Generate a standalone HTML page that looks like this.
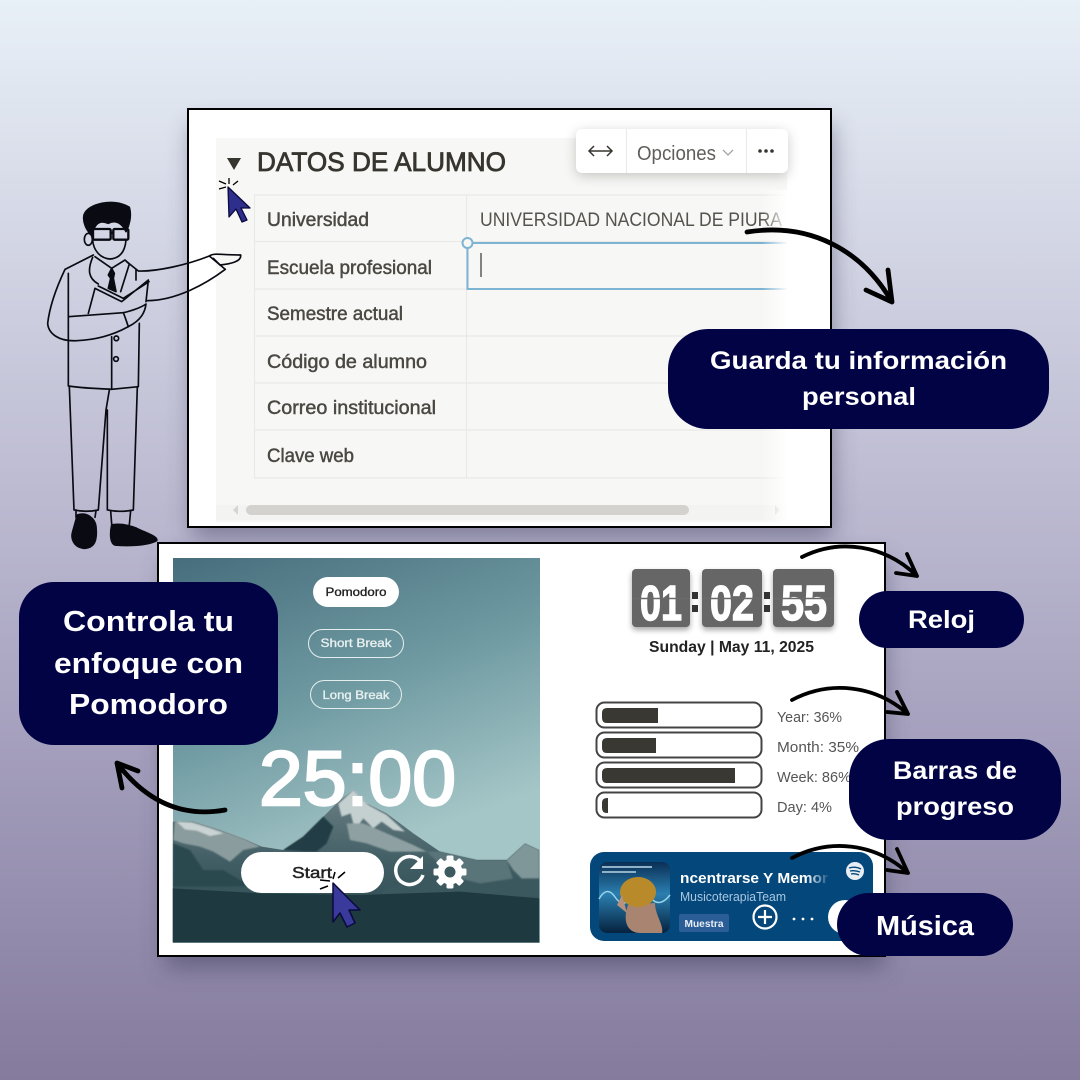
<!DOCTYPE html>
<html lang="es"><head><meta charset="utf-8"><title>Plantilla</title>
<style>html,body{margin:0;padding:0;background:#b5b2cc}svg{display:block}text{font-family:"Liberation Sans",sans-serif}</style></head>
<body>
<svg xmlns="http://www.w3.org/2000/svg" width="1080" height="1080" viewBox="0 0 1080 1080">
<defs>
<linearGradient id="bg" x1="0" y1="0" x2="0" y2="1"><stop offset="0" stop-color="#e8f0f7"/><stop offset=".17" stop-color="#d8dce9"/><stop offset=".52" stop-color="#b6b3cc"/><stop offset=".75" stop-color="#9e98b7"/><stop offset="1" stop-color="#857b9d"/></linearGradient>
<linearGradient id="sky" x1="0" y1="0" x2=".35" y2="1"><stop offset="0" stop-color="#466d7c"/><stop offset=".45" stop-color="#6f9aa2"/><stop offset=".85" stop-color="#a5c6c7"/></linearGradient>
<linearGradient id="fade" x1="0" y1="0" x2="1" y2="0"><stop offset="0" stop-color="#fff" stop-opacity="0"/><stop offset="1" stop-color="#fff"/></linearGradient>
<linearGradient id="mt" x1="0" y1="0" x2="0" y2="1"><stop offset="0" stop-color="#6b8084"/><stop offset=".5" stop-color="#3f5c63"/><stop offset="1" stop-color="#2a464d"/></linearGradient>
<linearGradient id="tf" x1="0" y1="0" x2="1" y2="0"><stop offset=".85" stop-color="#fff"/><stop offset="1" stop-color="#fff" stop-opacity=".1"/></linearGradient>
<linearGradient id="alb" x1="0" y1="0" x2="0" y2="1"><stop offset="0" stop-color="#0a2f55"/><stop offset=".45" stop-color="#2a7fb0"/><stop offset="1" stop-color="#06223f"/></linearGradient>
<filter id="sh" x="-20%" y="-20%" width="140%" height="150%"><feGaussianBlur stdDeviation="12"/></filter>
<filter id="sh2" x="-30%" y="-60%" width="160%" height="260%"><feGaussianBlur stdDeviation="6"/></filter>
<filter id="sh3" x="-30%" y="-30%" width="160%" height="160%"><feGaussianBlur stdDeviation="3"/></filter>
<filter id="soft" x="-5%" y="-5%" width="110%" height="110%"><feGaussianBlur stdDeviation="2.5"/></filter>
<clipPath id="pan"><rect x="38" y="25" width="1100" height="1153"/></clipPath>
</defs>
<rect width="1080" height="1080" fill="url(#bg)"/>

<!-- shadows -->
<rect x="192" y="125" width="640" height="412" fill="#3b3a58" opacity=".5" filter="url(#sh)"/>
<rect x="165" y="560" width="720" height="408" fill="#3b3a58" opacity=".5" filter="url(#sh)"/>

<!-- top frame -->
<rect x="188" y="109" width="643" height="418" fill="#fff" stroke="#000" stroke-width="2"/>
<rect x="216" y="138" width="571" height="384" fill="#f7f7f5"/>
<g stroke="#e9e9e7" stroke-width="1.2" fill="none">
<path d="M254.5 195V478M466.500 195V478M254 195H787M254 241.5H787M254 289H467M254 336H787M254 383H787M254 430H787M254 478H787"/>
</g>
<path d="M227 158H241L234 170Z" fill="#37352f"/>
<text x="257" y="171" font-size="27" fill="#37352f" stroke="#37352f" stroke-width=".8" textLength="249" lengthAdjust="spacingAndGlyphs">DATOS DE ALUMNO</text>
<g font-size="19" fill="#4a4843" stroke="#4a4843" stroke-width=".45">
<text x="267" y="226" textLength="102" lengthAdjust="spacingAndGlyphs">Universidad</text>
<text x="267" y="274" textLength="165" lengthAdjust="spacingAndGlyphs">Escuela profesional</text>
<text x="267" y="320" textLength="136" lengthAdjust="spacingAndGlyphs">Semestre actual</text>
<text x="267" y="368" textLength="160" lengthAdjust="spacingAndGlyphs">Código de alumno</text>
<text x="267" y="414" textLength="169" lengthAdjust="spacingAndGlyphs">Correo institucional</text>
<text x="267" y="462" textLength="87" lengthAdjust="spacingAndGlyphs">Clave web</text>
</g>
<text x="480" y="226" font-size="19" fill="#55534e" textLength="302" lengthAdjust="spacingAndGlyphs">UNIVERSIDAD NACIONAL DE PIURA</text>
<path d="M467.5 243V289H787M467.5 243H787" fill="none" stroke="#7db3d3" stroke-width="2"/>
<circle cx="467.5" cy="243" r="5" fill="#f7f7f5" stroke="#7db3d3" stroke-width="2"/>
<path d="M481 253V277" stroke="#444" stroke-width="1.3"/>
<rect x="216" y="505" width="571" height="15" fill="#f3f3f1"/>
<rect x="246" y="505" width="443" height="10" rx="5" fill="#d3d2ce"/>
<path d="M238 505L233 510L238 515ZM775 505L780 510L775 515Z" fill="#d6d5d1"/>
<rect x="762" y="190" width="26" height="332" fill="url(#fade)"/>
<!-- toolbar -->
<rect x="576" y="132" width="212" height="44" rx="6" fill="#55534e" opacity=".3" filter="url(#sh2)"/>
<rect x="576" y="129" width="212" height="44" rx="6" fill="#fff"/>
<path d="M626.500 129V173M746.500 129V173" stroke="#ecebe9" stroke-width="1.2"/>
<path d="M589 151H612M594 146L589 151L594 156M607 146L612 151L607 156" fill="none" stroke="#37352f" stroke-width="1.5"/>
<text x="637" y="160" font-size="20" fill="#605e5a" textLength="79" lengthAdjust="spacingAndGlyphs">Opciones</text>
<path d="M723 150L728 155L733 150" fill="none" stroke="#a5a4a0" stroke-width="1.3"/>
<g fill="#37352f"><circle cx="760" cy="151" r="1.8"/><circle cx="766" cy="151" r="1.8"/><circle cx="772" cy="151" r="1.8"/></g>

<!-- bottom frame -->
<rect x="158" y="543" width="727" height="413" fill="#fff" stroke="#000" stroke-width="2"/>
<!-- pomodoro panel -->
<rect x="173" y="558" width="367" height="385" fill="url(#sky)"/>
<g transform="translate(160 550) scale(.33333)" clip-path="url(#pan)">
<polygon fill="url(#mt)" points="38,815 100,815 180,840 260,870 305,890 370,900 430,860 500,790 540,750 580,720 620,760 680,790 760,850 840,905 950,930 1040,930 1095,880 1138,900 1138,1178 38,1178"/>
<g filter="url(#soft)">
<polygon fill="#8b9c9e" points="45,815 100,815 180,840 260,870 300,890 250,900 210,935 160,905 120,890 70,880 40,870"/>
<polygon fill="#c9d3d3" points="50,815 95,818 150,835 190,850 150,858 110,842 75,838"/>
<polygon fill="#2c4950" points="40,880 90,900 130,960 190,960 240,990 300,1010 40,1010"/>
<polygon fill="#223e45" points="370,900 430,860 490,800 520,830 500,880 470,905 440,905"/>
<polygon fill="#c4cfcf" points="535,762 580,720 625,765 680,795 735,845 700,840 665,815 640,835 610,805 585,840 572,790 545,800"/>
<polygon fill="#8ea0a2" points="560,820 610,820 680,850 760,885 800,905 690,905 620,880 570,870"/>
<polygon fill="#5a7479" points="800,905 840,905 950,930 1040,930 1060,990 980,1010 880,980"/>
<polygon fill="#7f9799" points="1040,930 1095,880 1138,900 1138,985 1085,985 1060,960"/>
<polygon fill="#3b585e" points="670,1020 770,985 860,975 960,1000 1060,985 1138,990 1138,1040 670,1040"/>
</g>
<polygon fill="#1f3940" points="38,1015 300,1030 600,1035 900,1025 1138,1045 1138,1178 38,1178"/>
</g>
<rect x="313" y="577" width="86" height="30" rx="15" fill="#fff"/>
<text x="356" y="596" font-size="11.5" fill="#222" stroke="#222" stroke-width=".35" text-anchor="middle" textLength="61" lengthAdjust="spacingAndGlyphs">Pomodoro</text>
<rect x="308.5" y="629.5" width="95" height="28" rx="14" fill="none" stroke="#e4eeee" stroke-width="1"/>
<text x="356" y="647" font-size="12" fill="#e8f0f0" stroke="#e8f0f0" stroke-width=".35" text-anchor="middle" textLength="71" lengthAdjust="spacingAndGlyphs">Short Break</text>
<rect x="310.5" y="680.5" width="91" height="28" rx="14" fill="none" stroke="#e4eeee" stroke-width="1"/>
<text x="356" y="699" font-size="12" fill="#e8f0f0" stroke="#e8f0f0" stroke-width=".35" text-anchor="middle" textLength="67" lengthAdjust="spacingAndGlyphs">Long Break</text>
<text x="259" y="805" font-size="77" fill="#fff" stroke="#fff" stroke-width="2.4" textLength="197" lengthAdjust="spacingAndGlyphs">25:00</text>
<rect x="241" y="852" width="143" height="41" rx="20.5" fill="#fff"/>
<text x="292" y="878" font-size="16" fill="#222" stroke="#222" stroke-width=".45" textLength="40" lengthAdjust="spacingAndGlyphs">Start</text>
<path d="M420 861A14 14 0 1 0 423 875" fill="none" stroke="#fff" stroke-width="3.5"/>
<path d="M423 856V869H410Z" fill="#fff"/>
<g fill="#fff" transform="translate(450 872)">
<circle r="12.5"/><rect x="-3.500" y="-16.5" width="7" height="33" rx="1.5"/><rect x="-3.5" y="-16.5" width="7" height="33" rx="1.5" transform="rotate(45)"/><rect x="-3.5" y="-16.5" width="7" height="33" rx="1.5" transform="rotate(90)"/><rect x="-3.5" y="-16.5" width="7" height="33" rx="1.5" transform="rotate(135)"/>
<circle r="5.5" fill="#3d5a60"/></g>

<!-- clock -->
<g filter="url(#sh3)" opacity=".35" fill="#000"><rect x="632" y="572" width="58" height="58" rx="4"/><rect x="702" y="572" width="60" height="58" rx="4"/><rect x="773" y="572" width="61" height="58" rx="4"/></g>
<g fill="#666"><rect x="632" y="569" width="58" height="58" rx="4"/><rect x="702" y="569" width="60" height="58" rx="4"/><rect x="773" y="569" width="61" height="58" rx="4"/></g>
<g font-size="49" font-weight="bold" fill="#fff" stroke="#fff" stroke-width="1.4">
<text x="640" y="620" textLength="42" lengthAdjust="spacingAndGlyphs">01</text>
<text x="710" y="620" textLength="44" lengthAdjust="spacingAndGlyphs">02</text>
<text x="781" y="620" textLength="46" lengthAdjust="spacingAndGlyphs">55</text>
</g>
<path d="M632 598.5H690M702 598.5H762M773 598.5H834" stroke="#6a6a6a" stroke-width="1.4"/>
<g fill="#333"><rect x="692" y="592" width="6" height="7"/><rect x="692" y="605" width="6" height="7"/><rect x="764" y="592" width="6" height="7"/><rect x="764" y="605" width="6" height="7"/></g>
<text x="649" y="652" font-size="16" font-weight="bold" fill="#222" textLength="165" lengthAdjust="spacingAndGlyphs">Sunday | May 11, 2025</text>

<!-- bars -->
<g fill="#fff" stroke="#444" stroke-width="2"><rect x="596.5" y="702.5" width="165" height="25" rx="8"/><rect x="596.5" y="732.5" width="165" height="25" rx="8"/><rect x="596.5" y="762.5" width="165" height="25" rx="8"/><rect x="596.5" y="792.5" width="165" height="25" rx="8"/></g>
<g fill="#3a3832"><path d="M607 708H658V723H607Q602 723 602 718V713Q602 708 607 708Z"/><path d="M607 738H656V753H607Q602 753 602 748V743Q602 738 607 738Z"/><path d="M607 768H735V783H607Q602 783 602 778V773Q602 768 607 768Z"/><path d="M607 798H608V813H607Q602 813 602 808V803Q602 798 607 798Z"/></g>
<g font-size="15" fill="#555"><text x="777" y="722" textLength="65" lengthAdjust="spacingAndGlyphs">Year: 36%</text><text x="777" y="752" textLength="82" lengthAdjust="spacingAndGlyphs">Month: 35%</text><text x="777" y="782" textLength="74" lengthAdjust="spacingAndGlyphs">Week: 86%</text><text x="777" y="812" textLength="55" lengthAdjust="spacingAndGlyphs">Day: 4%</text></g>

<!-- music -->
<rect x="590" y="852" width="283" height="89" rx="14" fill="#04477b"/>
<rect x="599" y="862" width="71" height="71" rx="8" fill="url(#alb)"/>
<path d="M599 899Q607 885 615 897T632 897T650 897T670 895" fill="none" stroke="#9ad4e8" stroke-width="1.5"/>
<path d="M628 905C622 922 628 933 640 933H662C664 925 655 915 655 903Z" fill="#a98470"/>
<ellipse cx="638" cy="892" rx="18" ry="15" fill="#b98a2a"/>
<path d="M622 895L617 905L627 913Z" fill="#b8927c"/>
<rect x="602" y="866" width="50" height="2" fill="#8eb1c7"/><rect x="602" y="871" width="34" height="2" fill="#8eb1c7"/>
<text x="680" y="883" font-size="15" font-weight="bold" fill="url(#tf)" textLength="148" lengthAdjust="spacingAndGlyphs">ncentrarse Y Memor</text>
<text x="680" y="901" font-size="13" fill="#a9c7e0" textLength="106" lengthAdjust="spacingAndGlyphs">MusicoterapiaTeam</text>
<rect x="679" y="914" width="50" height="18" rx="2" fill="#2b5d97"/>
<text x="704" y="927" font-size="10" font-weight="bold" fill="#e8eef5" text-anchor="middle" textLength="39" lengthAdjust="spacingAndGlyphs">Muestra</text>
<circle cx="765" cy="917" r="11.5" fill="none" stroke="#fff" stroke-width="2.2"/>
<path d="M758 917H772M765 910V924" stroke="#fff" stroke-width="2.2"/>
<g fill="#fff"><circle cx="794" cy="919" r="1.4"/><circle cx="803" cy="919" r="1.4"/><circle cx="812" cy="919" r="1.4"/></g>
<circle cx="845" cy="917" r="17" fill="#fff"/>
<circle cx="855" cy="871" r="9" fill="#e8eef3"/>
<path d="M849 868Q855 866 861 869M850 871Q855 870 860 872M851 874Q855 873 859 875" fill="none" stroke="#04477b" stroke-width="1.3"/>

<!-- man -->
<g transform="translate(0 180) scale(.33333)" fill="none" stroke="#0a0a12" stroke-width="5" stroke-linecap="round" stroke-linejoin="round">
<path fill="#0a0a12" d="M252 105C262 72 340 52 388 82C396 110 386 140 378 155C366 128 345 118 325 130C305 122 290 124 280 150L276 165C258 152 248 125 252 105Z"/>
<rect x="279" y="147" width="53" height="32" rx="4" stroke-width="7"/><rect x="340" y="147" width="45" height="32" rx="4" stroke-width="7"/><path d="M332 158H340" stroke-width="7"/>
<ellipse cx="265" cy="178" rx="12" ry="18"/>
<path d="M278 180C280 210 300 235 330 237C360 235 375 215 378 180"/>
<path d="M280 225L195 268C175 310 150 370 143 430C145 460 175 485 230 482C290 480 340 465 385 440"/>
<path d="M205 280L205 410L370 398"/>
<path d="M205 410L205 618C250 625 290 625 335 628L415 620L418 430"/>
<path d="M380 245L415 273C470 275 560 255 628 228L676 268C620 310 530 362 440 362"/>
<path d="M628 228C640 218 660 225 722 225C725 245 690 252 660 255L640 235"/>
<path d="M278 232C262 270 265 295 295 312M285 230L335 265L375 240L388 252L362 335M408 270V300"/>
<path fill="#0a0a12" d="M335 265L325 285L332 295L325 325L348 335L340 295L343 280Z"/>
<path d="M265 400L285 325L365 365L445 300L438 365M295 318L370 355L447 305"/>
<path d="M370 398C385 395 420 385 438 372C435 395 425 420 385 440C378 420 375 410 370 398Z"/>
<circle cx="349" cy="475" r="7"/><circle cx="348" cy="537" r="7"/>
<path d="M335 470L335 628"/>
<path d="M208 620L222 990C245 995 270 995 295 990L318 690L328 630"/>
<path d="M322 690L322 990C345 995 375 995 400 990L412 620"/>
<path d="M228 990L228 1012M288 992L285 1012M332 992L335 1032M392 992L388 1034"/>
<path fill="#0a0a12" d="M232 1005C260 995 285 1015 288 1040C292 1080 285 1105 250 1105C220 1100 212 1075 218 1055C222 1040 228 1020 232 1005Z"/>
<path fill="#0a0a12" d="M335 1035C360 1030 385 1035 410 1045C440 1060 475 1070 470 1082C440 1098 380 1098 345 1095C330 1090 330 1060 335 1035Z"/>
</g>

<!-- cursors -->
<path d="M228 187L229 217L236 209L242 222L247 220L241 208L250 208Z" fill="#2e2e8c" stroke="#0a0a3c" stroke-width="1.3" stroke-linejoin="round"/>
<path d="M219 189L226 187M219 181L226 184M229 178V184M238 181L233 185" stroke="#000" stroke-width="1.3" fill="none"/>
<path d="M333 883L333 922L340 913L347 927L355 923L349 910L360 910Z" fill="#3a3a9c" stroke="#0a0a3c" stroke-width="1.5" stroke-linejoin="round"/>
<path d="M320 880L330 881M320 889L328 886M335 872L333 879M345 872L338 878" stroke="#000" stroke-width="1.5" fill="none"/>

<!-- arrows -->
<g fill="none" stroke="#000" stroke-linecap="round" stroke-linejoin="round">
<g stroke-width="4.8"><path d="M747 232C810 222 862 250 892 302M888 270L892 302L866 290"/><path d="M225 810C180 818 145 800 117 763M122 788L117 763L138 771"/></g>
<g stroke-width="3.8"><path d="M802 557C840 538 885 545 917 576M907 554L917 576L896 573"/><path d="M792 700C830 680 875 685 908 714M897 692L908 714L887 712"/><path d="M792 858C830 838 875 843 908 873M897 849L908 873L887 870"/></g>
</g>

<!-- pills -->
<g fill="#020345">
<rect x="668" y="329" width="381" height="100" rx="40"/>
<rect x="859" y="591" width="165" height="57" rx="28.5"/>
<rect x="849" y="739" width="212" height="101" rx="40"/>
<rect x="837" y="893" width="176" height="63" rx="31.5"/>
<rect x="19" y="582" width="259" height="163" rx="35"/>
</g>
<g fill="#fff" font-weight="bold">
<text x="710" y="369" font-size="25" textLength="297" lengthAdjust="spacingAndGlyphs">Guarda tu información</text>
<text x="802" y="405" font-size="25" textLength="114" lengthAdjust="spacingAndGlyphs">personal</text>
<text x="908" y="628" font-size="25" textLength="67" lengthAdjust="spacingAndGlyphs">Reloj</text>
<text x="893" y="779" font-size="25" textLength="124" lengthAdjust="spacingAndGlyphs">Barras de</text>
<text x="896" y="815" font-size="25" textLength="118" lengthAdjust="spacingAndGlyphs">progreso</text>
<text x="876" y="935" font-size="28" textLength="98" lengthAdjust="spacingAndGlyphs">Música</text>
<text x="63" y="631" font-size="29" textLength="171" lengthAdjust="spacingAndGlyphs">Controla tu</text>
<text x="54" y="673" font-size="29" textLength="189" lengthAdjust="spacingAndGlyphs">enfoque con</text>
<text x="69" y="714" font-size="29" textLength="159" lengthAdjust="spacingAndGlyphs">Pomodoro</text>
</g>
</svg>
</body></html>
